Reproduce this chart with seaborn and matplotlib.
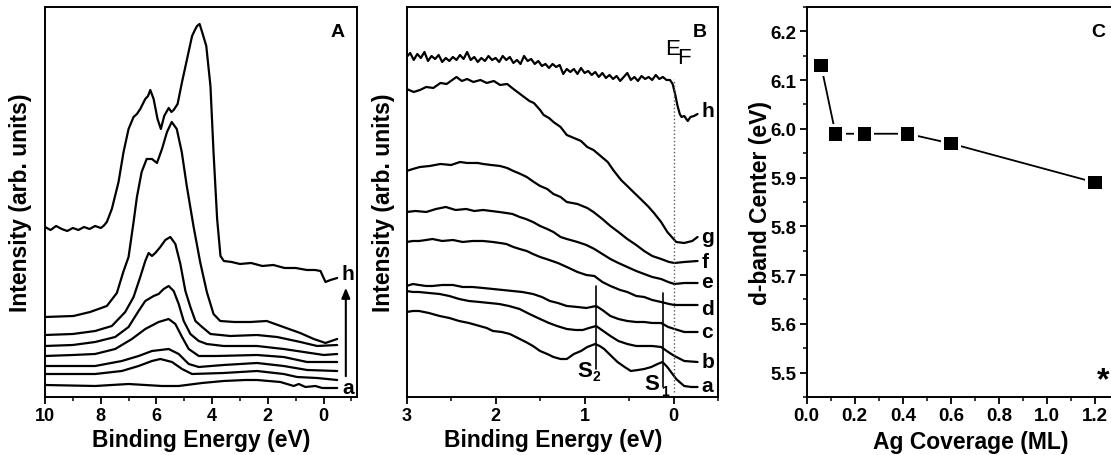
import matplotlib
matplotlib.use("Agg")
import matplotlib.pyplot as plt
import seaborn as sns
from matplotlib.ticker import MultipleLocator, FormatStrFormatter

# ---- panel A: valence band spectra, 0..10 eV (a = bottom ... h = top)
a_h_ev = [10.0, 9.8, 9.6, 9.4, 9.2, 9.0, 8.8, 8.6, 8.4, 8.2, 8.0, 7.9, 7.78, 7.6, 7.36, 7.18, 7.0, 6.82, 6.7,
          6.58, 6.4, 6.3, 6.22, 6.1, 5.96, 5.84, 5.72, 5.56, 5.46, 5.38, 5.24, 5.08, 4.9, 4.72, 4.6, 4.54,
          4.45, 4.36, 4.21, 4.06, 3.95, 3.82, 3.7, 3.58, 3.3, 3.0, 2.6, 2.2, 1.8, 1.4, 1.0, 0.6, 0.3, 0.11,
          -0.07, -0.25, -0.49]
a_h_int = [170, 167, 171, 168, 166, 169, 167, 170, 168, 171, 169, 171, 175, 188, 215, 245, 268, 280, 283,
           288, 298, 301, 307, 298, 278, 268, 281, 289, 285, 287, 293, 315, 338, 361, 368, 371,
           373, 365, 351, 311, 245, 178, 141, 136, 135, 133, 134, 131, 132, 129, 129, 127, 127, 126,
           115, 117, 119]
a_g_ev = [10.0, 8.98, 8.38, 7.78, 7.42, 7.19, 7.0, 6.82, 6.7, 6.53, 6.35, 6.16, 5.98, 5.8, 5.62, 5.45,
          5.27, 5.09, 4.91, 4.67, 4.43, 4.19, 3.95, 3.71, 3.2, 2.63, 2.04, 1.44, 0.84, 0.35, -0.07, -0.49]
a_g_int = [80, 81, 85, 91, 104, 125, 140, 175, 200, 225, 238, 238, 234, 248, 265, 275,
           268, 245, 211, 171, 135, 105, 83, 76, 75, 75, 76, 70, 64, 58, 54, 58]
a_f_ev = [10.0, 9.0, 8.2, 7.6, 7.12, 6.82, 6.58, 6.4, 6.28, 6.16, 6.04, 5.86, 5.68, 5.5, 5.32, 5.14,
          4.96, 4.78, 4.6, 4.36, 4.06, 3.35, 2.39, 1.67, 0.83, 0.23, -0.49]
a_f_int = [62, 63, 66, 71, 85, 100, 120, 136, 144, 141, 144, 150, 157, 160, 153, 133,
           106, 90, 76, 70, 63, 61, 62, 60, 55, 51, 52]
a_e_ev = [10.0, 9.0, 8.2, 7.48, 7.0, 6.64, 6.4, 6.1, 5.92, 5.74, 5.56, 5.38, 5.2, 5.02, 4.78, 4.48,
          4.19, 3.59, 2.39, 1.43, 0.71, -0.01, -0.49]
a_e_int = [51, 52, 55, 60, 70, 86, 96, 101, 103, 108, 111, 106, 93, 76, 63, 56,
           53, 51, 51, 48, 45, 42, 43]
a_d_ev = [10.0, 9.0, 8.2, 7.48, 6.88, 6.4, 5.92, 5.56, 5.32, 5.08, 4.84, 4.48, 3.83, 2.39, 1.43, 0.59, -0.49]
a_d_int = [41, 42, 43, 48, 58, 68, 75, 78, 73, 60, 48, 41, 41, 42, 40, 35, 35]
a_c_ev = [10.0, 9.0, 8.2, 7.24, 6.64, 6.16, 5.56, 5.2, 4.84, 4.48, 3.59, 2.39, 1.43, 0.59, -0.49]
a_c_int = [31, 31, 31, 36, 41, 46, 48, 43, 33, 30, 32, 34, 31, 27, 26]
a_b_ev = [10.0, 9.0, 8.2, 7.24, 6.64, 6.16, 5.86, 5.44, 5.08, 4.72, 3.59, 2.39, 1.43, 0.95, 0.23, -0.49]
a_b_int = [23, 23, 23, 26, 31, 36, 38, 35, 28, 23, 24, 26, 23, 20, 19, 17]
a_a_ev = [10.0, 8.2, 7.0, 5.8, 5.2, 4.36, 3.59, 2.8, 2.39, 1.55, 1.07, 0.89, 0.65, 0.29, 0.05, -0.49]
a_a_int = [12, 11, 13, 11, 11, 14, 16, 17, 17, 15, 11, 13, 10, 11, 9, 9]

# ---- panel B: near-Fermi-level region
# top spectrum (h) read as (eV, intensity) pairs, it is the noisiest one
b_h_pts = [(3.0, 340), (2.96, 344), (2.92, 337), (2.88, 343), (2.84, 339), (2.8, 345), (2.76, 336),
           (2.72, 341), (2.68, 338), (2.64, 342), (2.6, 335), (2.56, 339), (2.52, 336), (2.48, 340),
           (2.44, 337), (2.4, 342), (2.36, 338), (2.32, 345), (2.28, 337), (2.24, 340), (2.2, 335),
           (2.16, 339), (2.12, 336), (2.08, 341), (2.04, 337), (2.0, 339), (1.96, 335), (1.92, 341),
           (1.88, 337), (1.84, 340), (1.8, 334), (1.76, 337), (1.72, 333), (1.68, 341), (1.64, 336),
           (1.6, 338), (1.56, 333), (1.52, 336), (1.48, 331), (1.44, 333), (1.4, 329), (1.36, 333),
           (1.32, 330), (1.28, 332), (1.24, 323), (1.2, 328), (1.16, 325), (1.12, 328), (1.08, 323),
           (1.04, 329), (1.0, 324), (0.96, 326), (0.92, 322), (0.88, 325), (0.84, 320), (0.8, 324),
           (0.76, 319), (0.72, 322), (0.68, 318), (0.64, 321), (0.6, 316), (0.56, 320), (0.52, 324),
           (0.48, 317), (0.44, 320), (0.4, 316), (0.36, 321), (0.32, 318), (0.28, 320), (0.24, 317),
           (0.2, 322), (0.16, 318), (0.12, 320), (0.08, 317), (0.04, 317), (0.01, 313), (-0.02, 302),
           (-0.045, 291), (-0.07, 283), (-0.09, 280), (-0.12, 281), (-0.16, 276), (-0.19, 280),
           (-0.23, 281), (-0.27, 283)]
b_g_ev = [3.0, 2.92, 2.85, 2.78, 2.7, 2.62, 2.55, 2.44, 2.38, 2.32, 2.25, 2.17, 2.1, 2.02, 1.95, 1.87,
          1.8, 1.74, 1.68, 1.62, 1.57, 1.5, 1.46, 1.4, 1.35, 1.27, 1.2, 1.12, 1.04, 0.97, 0.9, 0.82,
          0.74, 0.67, 0.59, 0.52, 0.44, 0.37, 0.29, 0.22, 0.14, 0.07, -0.03, -0.12, -0.21, -0.27]
b_g_int = [308, 305, 307, 310, 309, 314, 313, 320, 316, 318, 315, 317, 314, 316, 312, 313,
           308, 304, 300, 296, 294, 287, 282, 279, 275, 270, 262, 259, 256, 250, 247, 241,
           235, 226, 217, 211, 204, 198, 191, 184, 175, 165, 155, 154, 156, 160]
b_f_ev = [3.0, 2.93, 2.85, 2.74, 2.62, 2.5, 2.4, 2.32, 2.2, 2.14, 2.05, 1.95, 1.87, 1.8, 1.72, 1.65,
          1.57, 1.5, 1.42, 1.35, 1.27, 1.2, 1.08, 0.97, 0.9, 0.8, 0.71, 0.62, 0.52, 0.42, 0.33, 0.24,
          0.14, 0.05, -0.01, -0.12, -0.27]
b_f_int = [226, 228, 230, 231, 233, 232, 235, 234, 234, 233, 232, 231, 229, 226, 223, 220,
           215, 211, 208, 203, 200, 195, 193, 189, 185, 178, 171, 165, 158, 152, 146, 141,
           138, 135, 134, 135, 136]
b_e_ev = [3.0, 2.9, 2.78, 2.67, 2.56, 2.45, 2.33, 2.24, 2.14, 2.05, 1.96, 1.88, 1.81, 1.73, 1.66, 1.58,
          1.5, 1.42, 1.35, 1.27, 1.2, 1.08, 0.98, 0.89, 0.8, 0.71, 0.62, 0.52, 0.42, 0.33, 0.24, 0.14,
          0.06, -0.01, -0.12, -0.27]
b_e_int = [185, 186, 185, 188, 190, 187, 188, 186, 187, 186, 185, 184, 183, 180, 178, 175,
           171, 168, 165, 160, 158, 155, 152, 148, 143, 138, 134, 130, 126, 123, 120, 118,
           115, 113, 114, 114]
b_d_ev = [3.0, 2.93, 2.86, 2.78, 2.71, 2.6, 2.48, 2.37, 2.26, 2.14, 2.03, 1.95, 1.88, 1.8, 1.73, 1.65,
          1.58, 1.5, 1.43, 1.3, 1.2, 1.08, 0.98, 0.89, 0.8, 0.71, 0.6, 0.52, 0.42, 0.33, 0.24, 0.14,
          0.05, -0.01, -0.12, -0.27]
b_d_int = [155, 156, 156, 157, 158, 156, 157, 155, 156, 156, 155, 154, 153, 150, 148, 146,
           143, 140, 138, 134, 130, 125, 122, 121, 115, 111, 107, 105, 101, 100, 97, 95,
           93, 92, 92, 92]
b_c_ev = [3.0, 2.93, 2.86, 2.78, 2.71, 2.6, 2.48, 2.37, 2.26, 2.14, 2.03, 1.92, 1.81, 1.7, 1.58, 1.48,
          1.39, 1.3, 1.2, 1.08, 0.98, 0.87, 0.8, 0.71, 0.62, 0.52, 0.42, 0.33, 0.24, 0.14, 0.06, -0.01,
          -0.12, -0.27]
b_c_int = [111, 113, 112, 111, 111, 112, 112, 110, 110, 109, 108, 107, 106, 105, 103, 100,
           96, 94, 91, 90, 89, 91, 87, 81, 78, 76, 75, 75, 74, 74, 70, 68,
           65, 65]
b_b_ev = [3.0, 2.93, 2.86, 2.75, 2.63, 2.52, 2.41, 2.3, 2.18, 2.07, 1.96, 1.85, 1.73, 1.62, 1.5, 1.4,
          1.31, 1.2, 1.1, 1.02, 0.95, 0.87, 0.79, 0.71, 0.62, 0.52, 0.42, 0.33, 0.24, 0.14, 0.06, -0.01,
          -0.12, -0.27]
b_b_int = [106, 105, 105, 104, 103, 101, 98, 96, 95, 94, 93, 91, 88, 83, 78, 74,
           71, 68, 67, 67, 69, 71, 66, 61, 56, 53, 51, 51, 51, 50, 45, 41,
           36, 35]
b_a_ev = [3.0, 2.93, 2.86, 2.75, 2.63, 2.52, 2.41, 2.3, 2.18, 2.1, 2.03, 1.93, 1.84, 1.75, 1.66, 1.58,
          1.5, 1.42, 1.35, 1.27, 1.2, 1.12, 1.04, 0.97, 0.88, 0.83, 0.78, 0.7, 0.63, 0.55, 0.48, 0.4,
          0.33, 0.25, 0.18, 0.124, 0.07, 0.02, -0.03, -0.08, -0.12, -0.2, -0.27]
b_a_int = [85, 86, 86, 84, 81, 79, 76, 74, 71, 69, 66, 65, 63, 59, 55, 51,
           46, 43, 40, 38, 38, 43, 46, 50, 53, 51, 48, 41, 35, 30, 26, 27,
           28, 30, 33, 35, 30, 24, 18, 14, 11, 10, 10]

curve_labels = ["h", "g", "f", "e", "d", "c", "b", "a"]
b_label_int = [286, 160, 135, 115, 88, 65, 35, 11]

# ---- panel C: d-band centre vs coverage
c_coverage = [0.06, 0.12, 0.24, 0.42, 0.60, 1.20]
c_center = [6.13, 5.99, 5.99, 5.99, 5.97, 5.89]

b_h_ev = [p[0] for p in b_h_pts]
b_h_int = [p[1] for p in b_h_pts]

sns.set_style("ticks", {"axes.edgecolor": "black", "xtick.color": "black", "ytick.color": "black",
                        "text.color": "black", "axes.labelcolor": "black"})
plt.rcParams["font.family"] = ["Liberation Sans", "DejaVu Sans"]
plt.rcParams["font.weight"] = "bold"
plt.rcParams["axes.labelweight"] = "bold"
plt.rcParams["axes.linewidth"] = 1.4

fig = plt.figure(figsize=(11.11, 4.56), dpi=100)
ax_a = fig.add_axes([0.0405, 0.1272, 0.2808, 0.8553])
ax_b = fig.add_axes([0.366, 0.1272, 0.2803, 0.8553])
ax_c = fig.add_axes([0.7261, 0.1272, 0.2811, 0.8553])


def draw_spectra(ax, curves):
    for ev, inten in curves:
        sns.lineplot(x=ev, y=inten, ax=ax, color="black", lw=1.6, sort=False, estimator=None)


def style_axis(ax, labelsize=13):
    ax.tick_params(axis="both", which="major", direction="out", length=5, width=1.3,
                   labelsize=labelsize, pad=2.5)
    ax.tick_params(axis="both", which="minor", direction="out", length=3, width=1.1)
    for side in ["top", "right", "left", "bottom"]:
        ax.spines[side].set_visible(True)
        ax.spines[side].set_linewidth(1.4)


# panel A
draw_spectra(ax_a, [(a_h_ev, a_h_int), (a_g_ev, a_g_int), (a_f_ev, a_f_int), (a_e_ev, a_e_int),
                    (a_d_ev, a_d_int), (a_c_ev, a_c_int), (a_b_ev, a_b_int), (a_a_ev, a_a_int)])
ax_a.set_xlim(10, -1.2)
ax_a.set_ylim(0, 390)
ax_a.xaxis.set_major_locator(MultipleLocator(2))
ax_a.xaxis.set_minor_locator(MultipleLocator(1))
ax_a.set_yticks([])
style_axis(ax_a)
ax_a.set_xlabel("Binding Energy (eV)", fontsize=16.5)
ax_a.set_ylabel("Intensity (arb. units)", fontsize=16.5)
ax_a.xaxis.set_label_coords(0.5, -0.08)
ax_a.yaxis.set_label_coords(-0.042, 0.5)
ax_a.annotate("", xy=(-0.8, 112), xytext=(-0.8, 18),
              arrowprops=dict(arrowstyle="-|>,head_length=0.6,head_width=0.25", color="black", lw=1.5))
ax_a.text(-0.86, 123, "h", ha="center", va="center", fontsize=15)
ax_a.text(-0.9, 9, "a", ha="center", va="center", fontsize=15)
ax_a.text(-0.49, 365, "A", ha="center", va="center", fontsize=14)

# panel B
draw_spectra(ax_b, [(b_h_ev, b_h_int), (b_g_ev, b_g_int), (b_f_ev, b_f_int), (b_e_ev, b_e_int),
                    (b_d_ev, b_d_int), (b_c_ev, b_c_int), (b_b_ev, b_b_int), (b_a_ev, b_a_int)])
ax_b.set_xlim(3, -0.5)
ax_b.set_ylim(0, 390)
ax_b.xaxis.set_major_locator(MultipleLocator(1))
ax_b.xaxis.set_minor_locator(MultipleLocator(0.5))
ax_b.set_yticks([])
style_axis(ax_b)
ax_b.set_xlabel("Binding Energy (eV)", fontsize=16.5)
ax_b.set_ylabel("Intensity (arb. units)", fontsize=16.5)
ax_b.xaxis.set_label_coords(0.47, -0.08)
ax_b.yaxis.set_label_coords(-0.038, 0.5)
ax_b.plot([0, 0], [5, 318], ls=":", color="0.35", lw=1.0)
ax_b.plot([0.87, 0.87], [28, 111], color="black", lw=1.2)
ax_b.plot([0.124, 0.124], [10, 104], color="black", lw=1.2)
ax_b.text(1.08, 21, "S", ha="left", va="baseline", fontsize=16)
ax_b.text(0.91, 17, "2", ha="left", va="baseline", fontsize=10)
ax_b.text(0.33, 8, "S", ha="left", va="baseline", fontsize=16)
ax_b.text(0.14, 2, "1", ha="left", va="baseline", fontsize=10)
ax_b.text(0.1, 343, "E", ha="left", va="baseline", fontsize=16, fontweight="normal")
ax_b.text(-0.045, 334, "F", ha="left", va="baseline", fontsize=16, fontweight="normal")
ax_b.text(-0.29, 365, "B", ha="center", va="center", fontsize=14)
for lab, yv in zip(curve_labels, b_label_int):
    ax_b.text(-0.31, yv, lab, ha="left", va="center", fontsize=15)

# panel C
sns.lineplot(x=c_coverage, y=c_center, ax=ax_c, color="black", lw=1.3, sort=False, estimator=None)
sns.scatterplot(x=c_coverage, y=c_center, ax=ax_c, marker="s", s=210, color="white", edgecolor="none",
                zorder=3)
sns.scatterplot(x=c_coverage, y=c_center, ax=ax_c, marker="s", s=95, color="black", edgecolor="none",
                zorder=4)
ax_c.set_xlim(0, 1.3)
ax_c.set_ylim(5.45, 6.25)
ax_c.xaxis.set_major_locator(MultipleLocator(0.2))
ax_c.xaxis.set_minor_locator(MultipleLocator(0.1))
ax_c.yaxis.set_major_locator(MultipleLocator(0.1))
ax_c.yaxis.set_minor_locator(MultipleLocator(0.05))
ax_c.xaxis.set_major_formatter(FormatStrFormatter("%.1f"))
ax_c.yaxis.set_major_formatter(FormatStrFormatter("%.1f"))
style_axis(ax_c, labelsize=13.5)
ax_c.set_xlabel("Ag Coverage (ML)", fontsize=16.5)
ax_c.set_ylabel("d-band Center (eV)", fontsize=16.5)
ax_c.xaxis.set_label_coords(0.525, -0.085)
ax_c.yaxis.set_label_coords(-0.112, 0.5)
ax_c.text(1.212, 6.2, "C", ha="center", va="center", fontsize=14)
ax_c.text(1.236, 5.468, "*", ha="center", va="baseline", fontsize=23)

fig.savefig("out.png", dpi=100)
